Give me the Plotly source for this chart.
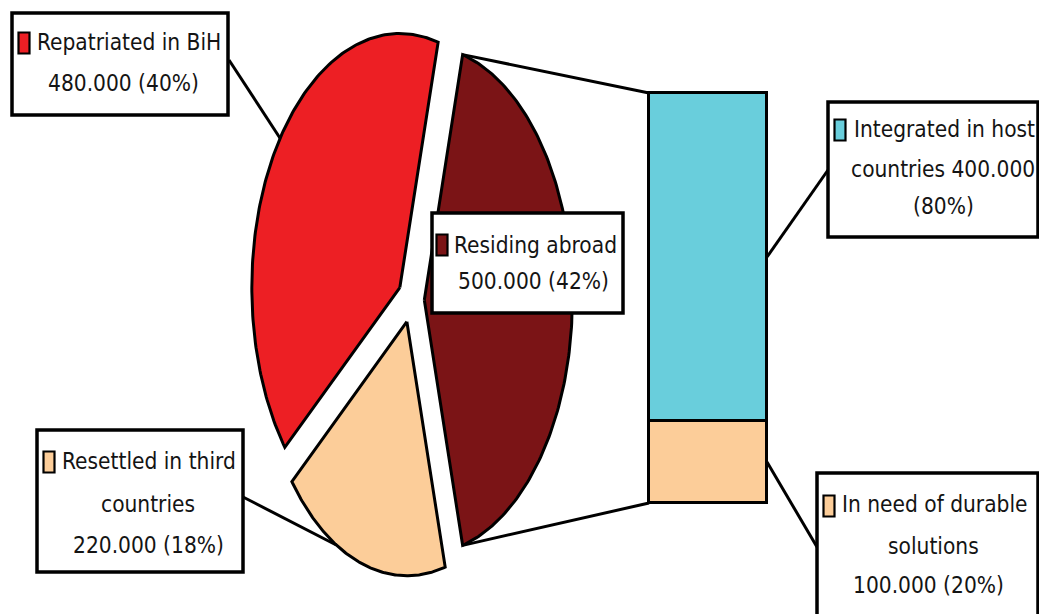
import numpy as np
import plotly.graph_objects as go

W, H = 1039, 614

# Displaced population from BiH (pie) and the split of those residing abroad (bar)
pie_labels = ["Residing abroad", "Resettled in third countries", "Repatriated in BiH"]
pie_values = [500000, 220000, 480000]
pie_colors = ["#7B1416", "#FCCD99", "#ED1F24"]

bar_labels = ["In need of durable solutions", "Integrated in host countries"]
bar_values = [100000, 400000]
bar_colors = ["#FCCD99", "#69CEDC"]

# label text, {v} = value, {p} = percent
pie_label_lines = [
    ["Residing abroad", "{v} ({p}%)"],
    ["Resettled in third", "countries", "{v} ({p}%)"],
    ["Repatriated in BiH", "{v} ({p}%)"],
]
bar_label_lines = [
    ["In need of durable", "solutions", "{v} ({p}%)"],
    ["Integrated in host", "countries {v}", "({p}%)"],
]

FONT = "DejaVu Sans Condensed, DejaVu Sans, sans-serif"
FSIZE = 22.5
TXT = "#141414"

# pie geometry (pixels)
CX, CY = 411, 300
RX, RY = 148, 254
EXPLODE = 0.09

# bar geometry (pixels)
BX0, BX1 = 649, 767
BY0, BY1 = 93, 503


def fmt(v):
    return f"{v:,}".replace(",", ".")


def pct(v, tot):
    return int(round(v / tot * 100))


fig = go.Figure()

total = sum(pie_values)
spans = [v / total * 360 for v in pie_values]
a0 = 90 - spans[0] / 2
slices = []
for lab, v, span, col in zip(pie_labels, pie_values, spans, pie_colors):
    a1 = a0 + span
    mid = np.radians((a0 + a1) / 2)
    ox = CX + EXPLODE * RX * np.sin(mid)
    oy = CY - EXPLODE * RY * np.cos(mid)
    th = np.radians(np.linspace(a0, a1, 160))
    xs = np.concatenate([[ox], ox + RX * np.sin(th), [ox]])
    ys = np.concatenate([[oy], oy - RY * np.cos(th), [oy]])
    fig.add_trace(go.Scatter(
        x=xs, y=ys, mode="lines", fill="toself", fillcolor=col,
        line=dict(color="black", width=3), hoverinfo="skip",
        showlegend=False, name=lab, xaxis="x", yaxis="y"))
    slices.append(dict(a0=a0, a1=a1, ox=ox, oy=oy))
    a0 = a1


def arc_point(i, deg):
    s = slices[i]
    t = np.radians(deg)
    return s["ox"] + RX * np.sin(t), s["oy"] - RY * np.cos(t)


# stacked bar on its own axes
bar_total = sum(bar_values)
PAD = 4
px = PAD / (BX1 - BX0)
py = PAD / (BY1 - BY0)
for lab, v, col in zip(bar_labels, bar_values, bar_colors):
    fig.add_trace(go.Bar(
        x=[0], y=[v], width=1, marker=dict(color=col, line=dict(color="black", width=2.6)),
        name=lab, showlegend=False, hoverinfo="skip", xaxis="x2", yaxis="y2"))

shapes = []
annotations = []

# connectors from the exploded slice to the bar
top_tip = arc_point(0, slices[0]["a0"])
bot_tip = arc_point(0, slices[0]["a1"])
for (x0, y0), (x1, y1) in [(top_tip, (BX0, BY0)), (bot_tip, (BX0, BY1))]:
    shapes.append(dict(type="line", xref="x", yref="y", x0=x0, y0=y0, x1=x1, y1=y1,
                       line=dict(color="black", width=3)))


def bar_y(val):
    return BY1 - val / bar_total * (BY1 - BY0)


# leader lines
cum = np.cumsum([0] + bar_values)
bar_mid = [(cum[i] + cum[i + 1]) / 2 for i in range(len(bar_values))]
leaders = [
    ((229, 60), arc_point(2, 306)),
    ((243, 497), arc_point(1, 208.5)),
    ((828, 170), (BX1, bar_y(bar_mid[1]))),
    ((817, 547), (BX1, bar_y(bar_mid[0]))),
]
for (x0, y0), (x1, y1) in leaders:
    shapes.append(dict(type="line", xref="x", yref="y", x0=x0, y0=y0, x1=x1, y1=y1,
                       line=dict(color="black", width=3)))

# label boxes: box, key centre, first-line left x, line centres (x) and y
pie_boxes = [
    dict(box=(432, 213, 623, 313), key=(442, 245), x1=452, xs=[None, 533], ys=[245, 281]),
    dict(box=(37, 430, 243, 572), key=(49, 462), x1=60, xs=[None, 148, 148], ys=[461, 504, 545]),
    dict(box=(12, 13, 228, 115), key=(24, 43), x1=35, xs=[None, 123], ys=[42, 83]),
]
bar_boxes = [
    dict(box=(817, 473, 1038, 640), key=(829, 506), x1=840, xs=[None, 933, 928], ys=[504, 546, 585]),
    dict(box=(828, 102, 1038, 237), key=(840, 130), x1=852, xs=[None, 943, 943], ys=[129, 169, 206]),
]

items = []
for v, col, lines, b in zip(pie_values, pie_colors, pie_label_lines, pie_boxes):
    items.append((v, total, col, lines, b))
for v, col, lines, b in zip(bar_values, bar_colors, bar_label_lines, bar_boxes):
    items.append((v, bar_total, col, lines, b))

font = dict(family=FONT, size=FSIZE, color=TXT)
for v, tot, col, lines, b in items:
    x0, y0, x1, y1 = b["box"]
    shapes.append(dict(type="rect", xref="x", yref="y", x0=x0, y0=y0, x1=x1, y1=y1,
                       fillcolor="white", line=dict(color="black", width=3.5)))
    kx, ky = b["key"]
    shapes.append(dict(type="rect", xref="x", yref="y", x0=kx - 5.5, y0=ky - 10.5,
                       x1=kx + 5.5, y1=ky + 10.5, fillcolor=col,
                       line=dict(color="black", width=2.2)))
    for i, (ln, cx, cy) in enumerate(zip(lines, b["xs"], b["ys"])):
        text = ln.format(v=fmt(v), p=pct(v, tot))
        if i == 0:
            annotations.append(dict(x=b["x1"], y=cy, xref="x", yref="y", text=text,
                                    showarrow=False, xanchor="left", yanchor="middle",
                                    font=font))
        else:
            annotations.append(dict(x=cx, y=cy, xref="x", yref="y", text=text,
                                    showarrow=False, xanchor="center", yanchor="middle",
                                    font=font))

fig.update_layout(
    width=W, height=H, margin=dict(l=0, r=0, t=0, b=0),
    paper_bgcolor="white", plot_bgcolor="rgba(0,0,0,0)",
    barmode="stack", bargap=0,
    xaxis=dict(range=[0, W], domain=[0, 1], visible=False, fixedrange=True),
    yaxis=dict(range=[H, 0], domain=[0, 1], visible=False, fixedrange=True),
    xaxis2=dict(range=[-0.5 - px, 0.5 + px], visible=False, fixedrange=True, anchor="y2",
                domain=[(BX0 - PAD) / W, (BX1 + PAD) / W]),
    yaxis2=dict(range=[-py * bar_total, bar_total * (1 + py)], visible=False, fixedrange=True,
                anchor="x2", domain=[(H - BY1 - PAD) / H, (H - BY0 + PAD) / H]),
    shapes=shapes, annotations=annotations,
)

fig.write_html("out.html", config=dict(displayModeBar=False))
